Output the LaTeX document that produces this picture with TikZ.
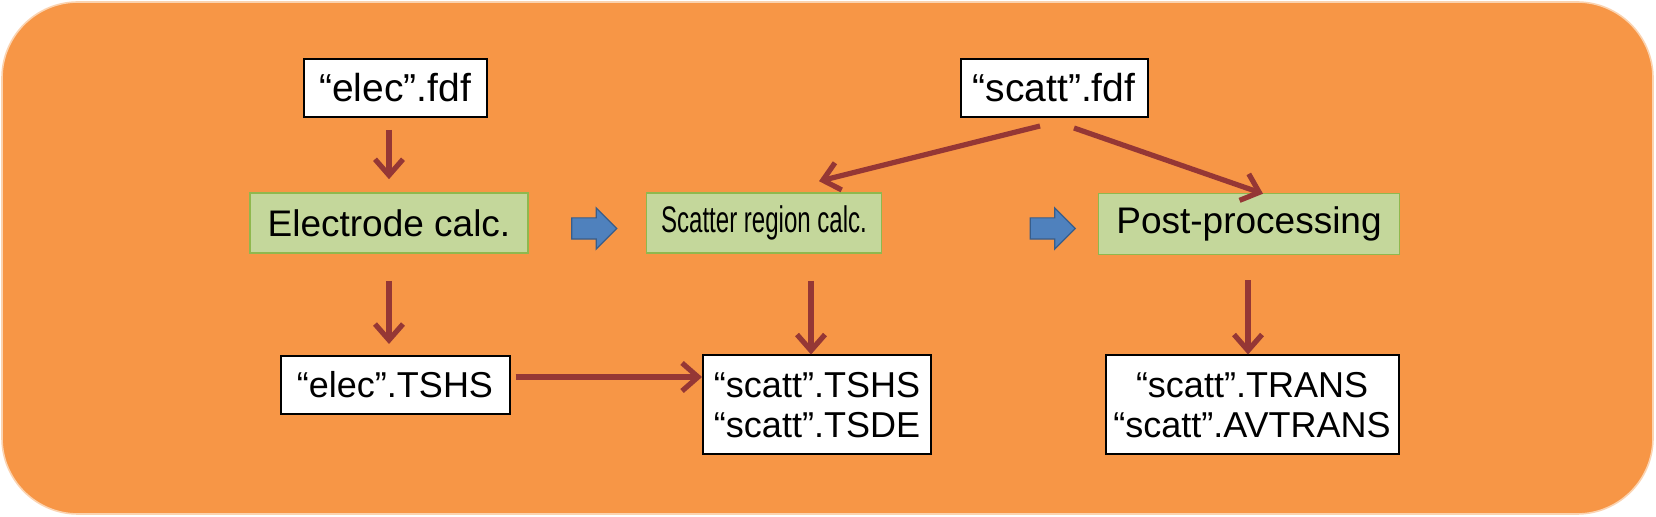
\documentclass[tikz,border=0pt]{standalone}
\usepackage{fontspec}
\setmainfont{Liberation Sans}
\usetikzlibrary{arrows.meta,shapes.arrows}
\definecolor{bgorange}{HTML}{F79646}
\definecolor{bgedge}{HTML}{FBD3B0}
\definecolor{calcfill}{HTML}{C4D79B}
\definecolor{calcedge}{HTML}{8FB84E}
\definecolor{flowred}{HTML}{953735}
\definecolor{blockblue}{HTML}{4F81BD}
\definecolor{blockedge}{HTML}{385D8A}
\tikzset{
  filebox/.style={draw=black, line width=1pt, fill=white, inner sep=0pt, align=center,
    font=\fontsize{18}{20}\selectfont},
  fdfbox/.style={filebox, font=\fontsize{19.5}{22}\selectfont},
  calcbox/.style={draw=calcedge, line width=0.8pt, fill=calcfill, inner sep=0pt,
    font=\fontsize{18.5}{22}\selectfont},
  flow/.style={draw=flowred, line width=2.6pt, -{Straight Barb[length=8pt,width=14pt]}},
  blockarrow/.style={shape=single arrow, draw=blockedge, line width=0.6pt, fill=blockblue,
    inner sep=0pt, minimum height=22.5pt, minimum width=20.5pt,
    single arrow head extend=5pt, text height=10pt, text depth=0pt, text width=0pt},
}
\begin{document}
\begin{tikzpicture}[x=0.5pt,y=-0.5pt]
\useasboundingbox (0,0) rectangle (1656,517);
\draw[fill=bgorange, draw=bgedge, line width=0.8pt, rounded corners=38pt] (2,2) rectangle (1653,514);

\node[fdfbox, minimum width=91.5pt, minimum height=29pt] (efdf) at (395,88) {“elec”.fdf};
\node[fdfbox, minimum width=93.5pt, minimum height=29pt] (sfdf) at (1054,88) {“scatt”.fdf};

\node[calcbox, minimum width=139pt, minimum height=30pt] (ecalc) at (389,223) {Electrode calc.};
\node[calcbox, minimum width=117.5pt, minimum height=30pt] (scalc) at (764,223) {\scalebox{0.65}[1]{Scatter region calc.}};
\node[calcbox, minimum width=150.5pt, minimum height=30.5pt] (post) at (1249,224) {Post-processing};

\node[blockarrow] (b1) at (589,228.5) {};
\node[blockarrow] (b2) at (1047.5,228.5) {};

\node[filebox, minimum width=114.5pt, minimum height=29pt] (etshs) at (395,385) {“elec”.TSHS};
\node[filebox, minimum width=114pt, minimum height=49.5pt] (stshs) at (817,405) {“scatt”.TSHS\\“scatt”.TSDE};
\node[filebox, minimum width=146.5pt, minimum height=49.5pt] (trans) at (1252,405) {“scatt”.TRANS\\“scatt”.AVTRANS};

\draw[flow, shorten <=6pt, shorten >=6.5pt] ([xshift=-3]efdf.south) -- ([xshift=-3]efdf.south |- ecalc.north);
\draw[flow, shorten <=13.5pt, shorten >=5.5pt] ([xshift=-3]efdf.south |- ecalc.south) -- ([xshift=-3]etshs.north);
\draw[flow, shorten <=2.5pt] ([yshift=4]etshs.east) -- ([yshift=4]etshs.east -| stshs.west);
\draw[flow, shorten <=13.5pt] ([xshift=-3]stshs.north |- scalc.south) -- ([xshift=-3]stshs.north);
\draw[flow, shorten <=12.5pt] ([xshift=-2]trans.north |- post.south) -- ([xshift=-2]trans.north);
\draw[flow] ([shift={(-14,8)}]sfdf.south) -- ([shift={(55,-11)}]scalc.north);
\draw[flow] ([shift={(20,10)}]sfdf.south) -- ([shift={(14,1)}]post.north);
\end{tikzpicture}
\end{document}
